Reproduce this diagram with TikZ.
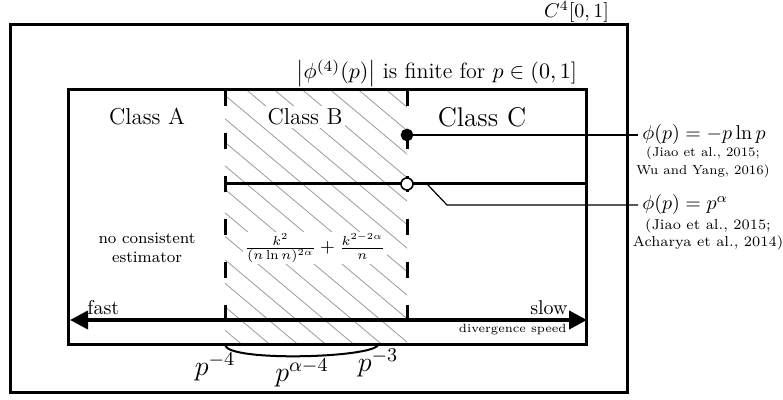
\RequirePackage{fix-cm}
\documentclass[tikz,border=0pt]{standalone}
\usepackage{amsmath}
\usepackage{fontspec}
\usetikzlibrary{arrows.meta, patterns.meta}

\begin{document}
\begin{tikzpicture}[x=0.5pt, y=-0.5pt,
  >={Triangle[length=9pt, width=9pt]},
  frame/.style={draw, line width=1.5pt},
  divider/.style={line width=1.5pt, dash pattern=on 8pt off 13.5pt},
  pointer/.style={line width=0.6pt},
  classlbl/.style={fill=white, inner sep=1.5pt, font=\fontsize{11.5}{14}\selectfont},
  refs/.style={align=center, inner sep=0pt},
  marker/.style={draw, circle, inner sep=0pt, line width=0.8pt}]

  \useasboundingbox (0,0) rectangle (783,400);

  % class B, hatched
  \fill[pattern={Lines[angle=-40, distance=9pt, line width=0.4pt]}, pattern color=black!40]
    (225,90) rectangle (407,345);

  % the two sets
  \draw[frame] (10,25) rectangle (627,393);
  \draw[frame] (68,90) rectangle (586,345);
  \node[anchor=base east, font=\fontsize{10}{12}\selectfont] (cfour) at (616,18) {$C^4[0,1]$};
  \node[anchor=base east, font=\fontsize{11}{13}\selectfont] (finite) at (584,79)
    {$\big|\phi^{(4)}(p)\big|$ is finite for $p\in(0,1]$};

  % borders between classes
  \draw[divider] (225,90) -- (225,345);
  \draw[divider] (407,90) -- (407,345);

  \node[classlbl] (clA) at (147,117) {Class A};
  \node[classlbl] (clB) at (305,117) {Class B};
  \node[classlbl, font=\fontsize{13.5}{16}\selectfont] (clC) at (482,117) {Class C};

  \node[align=center, font=\fontsize{8}{9.5}\selectfont] (noest) at (147,248)
    {no consistent\\estimator};
  \node[fill=white, inner sep=1pt, font=\fontsize{9.3}{11}\selectfont] (rate) at (315,248)
    {$\frac{k^2}{(n\ln n)^{2\alpha}}+\frac{k^{2-2\alpha}}{n}$};

  % p^alpha family
  \coordinate (pa) at (225,184);
  \coordinate (pb) at (586,184);
  \draw[line width=1.5pt] (pa) -- (pb);

  % examples
  \node[marker, fill=black, minimum size=5.5pt] (entropy) at (407,135) {};
  \node[anchor=west, inner sep=2pt, font=\fontsize{10}{12}\selectfont] (lblA) at (638,135)
    {$\phi(p)=-p\ln p$};
  \node[refs, font=\fontsize{6.5}{9}\selectfont] (refA) at (703,162)
    {(Jiao et al., 2015;\\Wu and Yang, 2016)};
  \draw[pointer] (entropy) -- (lblA.west);

  \coordinate (kink) at (427,184);
  \coordinate (bend) at (447,205);
  \node[anchor=west, inner sep=2pt, font=\fontsize{10}{12}\selectfont] (lblB) at (638,205)
    {$\phi(p)=p^{\alpha}$};
  \node[refs, font=\fontsize{7.2}{8.5}\selectfont] (refB) at (708,234)
    {(Jiao et al., 2015;\\Acharya et al., 2014)};
  \draw[pointer] (kink) -- (bend) -- (lblB.west);
  \node[marker, fill=white, minimum size=6pt] (power) at (407,184) {};

  % divergence speed axis
  \coordinate (fastend) at (70,320);
  \coordinate (slowend) at (587,320);
  \draw[line width=2pt, <->] (fastend) -- (slowend);
  \node[anchor=base west, inner sep=0pt, font=\fontsize{10}{12}\selectfont] (fast) at (87,315) {fast};
  \node[anchor=base east, inner sep=0pt, font=\fontsize{10}{12}\selectfont] (slow) at (568,315) {slow};
  \node[anchor=base east, inner sep=0pt, font=\fontsize{6}{7}\selectfont] (divsp) at (567,333) {divergence speed};

  % range of p^alpha
  \coordinate (lo) at (225,345);
  \coordinate (hi) at (378,345);
  \draw[line width=1pt] (lo) .. controls (228,362) and (372,358) .. (hi);
  \node[font=\fontsize{14}{16}\selectfont] (pfour) at (215,367) {$p^{-4}$};
  \node[font=\fontsize{14}{16}\selectfont] (palpha) at (302,373) {$p^{\alpha-4}$};
  \node[font=\fontsize{14}{16}\selectfont] (pthree) at (378,363) {$p^{-3}$};
\end{tikzpicture}
\end{document}
